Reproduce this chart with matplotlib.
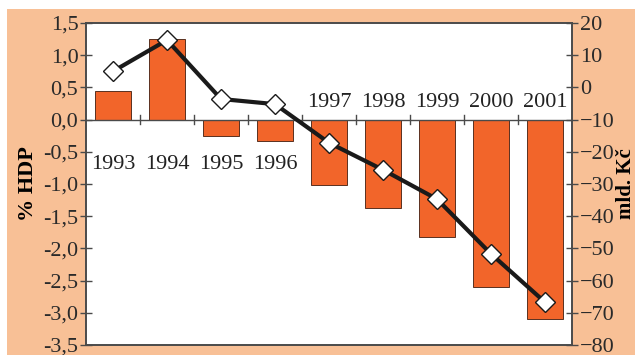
import matplotlib.pyplot as plt
from matplotlib.patches import Rectangle
from matplotlib.ticker import FuncFormatter, MultipleLocator

years = ["1993", "1994", "1995", "1996", "1997", "1998", "1999", "2000", "2001"]
pct_hdp = [0.45, 1.25, -0.25, -0.34, -1.02, -1.38, -1.82, -2.60, -3.10]
mld_kc = [5.0, 14.7, -3.6, -5.2, -17.2, -25.6, -34.7, -51.7, -66.7]

plt.rcParams['font.family'] = ['Liberation Serif', 'DejaVu Serif']
plt.rcParams['font.size'] = 16

peach = '#f8c096'
bar_color = '#f2652a'
axis_color = '#4a4a4a'

fig = plt.figure(figsize=(6.35, 3.55), dpi=100, facecolor='white')
fig.patches.append(Rectangle((7 / 635, 0), 1, 1 - 9 / 355, transform=fig.transFigure,
                             facecolor=peach, edgecolor='none', zorder=-10))

ax = fig.add_axes([86 / 635, 10 / 355, 486 / 635, 322 / 355])
ax.set_facecolor('white')
x = list(range(len(years)))
ax.bar(x, pct_hdp, width=0.68, color=bar_color, edgecolor='#5a3020', linewidth=0.7, zorder=2)
ax.set_xlim(-0.5, len(years) - 0.5)
ax.set_ylim(-3.5, 1.5)
ax.yaxis.set_major_locator(MultipleLocator(0.5))
ax.yaxis.set_major_formatter(FuncFormatter(lambda v, p: f"{v:.1f}".replace('.', ',')))
ax.set_ylabel('% HDP', fontweight='bold', fontsize=16, labelpad=4)

# zero line carries the category separators
ax.axhline(0, color=axis_color, linewidth=1.0, zorder=3)
for b in range(1, len(years)):
    ax.plot([b - 0.5, b - 0.5], [-0.07, 0.07], color=axis_color, linewidth=1.0, zorder=3)
ax.set_xticks([])

# year labels: below the axis for surplus years, above it for deficit years
for i, yr in enumerate(years):
    ypos = -0.70 if i < 4 else 0.27
    ax.text(i, ypos, yr, ha='center', va='center', fontsize=16, color='#222222', zorder=4)

for s in ax.spines.values():
    s.set_color(axis_color)
    s.set_linewidth(1.2)
ax.tick_params(axis='y', direction='inout', length=9, width=1.0, color=axis_color,
               labelcolor='#2a2a2a', pad=1, labelsize=16)

ax2 = ax.twinx()
ax2.plot(x, mld_kc, color='#1a1a1a', linewidth=3.0, marker='D', markersize=10,
         markerfacecolor='white', markeredgecolor='#1a1a1a', markeredgewidth=1.0, zorder=5)
ax2.set_ylim(-80, 20)
ax2.yaxis.set_major_locator(MultipleLocator(10))
ax2.set_ylabel('mld. Kč', fontweight='bold', fontsize=15, labelpad=1)
ax2.tick_params(axis='y', direction='inout', length=9, width=1.0, color=axis_color,
                labelcolor='#2a2a2a', pad=1, labelsize=16)
for s in ax2.spines.values():
    s.set_color(axis_color)
    s.set_linewidth(1.2)

fig.savefig('out.png', dpi=100, facecolor=fig.get_facecolor())
